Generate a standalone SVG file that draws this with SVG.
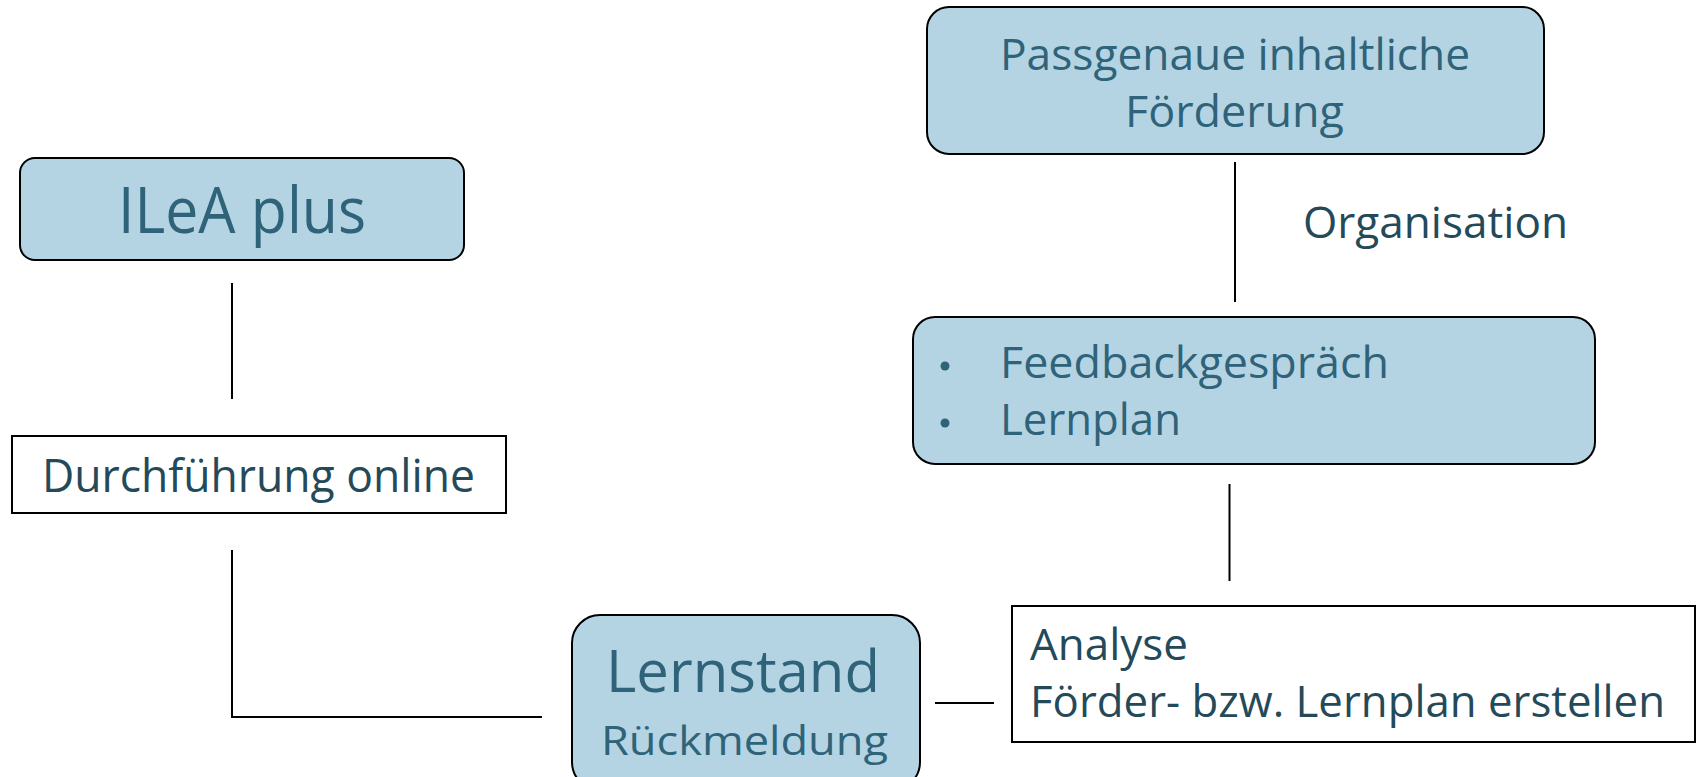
<svg xmlns="http://www.w3.org/2000/svg" width="1697" height="777" viewBox="0 0 1697 777">
<style>
.blue{fill:#b4d4e3;stroke:#000;stroke-width:2}
.white{fill:#fff;stroke:#000;stroke-width:2}
.t{font-family:"Open Sans","Noto Sans",sans-serif}
.tb{fill:#2f6379}
.td{fill:#244a5a}
.conn line,.conn polyline{stroke:#000;stroke-width:2;fill:none}
</style>
<rect width="1697" height="777" fill="#fff"/>
<g class="conn">
<line x1="232" y1="283" x2="232" y2="399"/>
<polyline points="232,550 232,717 542,717"/>
<line x1="935" y1="703" x2="994" y2="703"/>
<line x1="1235" y1="162" x2="1235" y2="302"/>
<line x1="1229.5" y1="484" x2="1229.5" y2="581"/>
</g>
<g id="ilea">
<rect class="blue" x="20" y="158" width="444" height="102" rx="15"/>
<text class="t tb" x="118" y="233" font-size="64" textLength="248" lengthAdjust="spacingAndGlyphs">ILeA plus</text>
</g>
<g id="durchfuehrung">
<rect class="white" x="12" y="436" width="494" height="77"/>
<text class="t td" x="42" y="492" font-size="46" textLength="433" lengthAdjust="spacingAndGlyphs">Durchführung online</text>
</g>
<g id="lernstand">
<rect class="blue" x="572" y="615" width="348" height="175" rx="28"/>
<text class="t tb" x="606" y="692" font-size="58" textLength="274" lengthAdjust="spacingAndGlyphs">Lernstand</text>
<text class="t tb" x="601" y="755" font-size="40" textLength="287" lengthAdjust="spacingAndGlyphs">Rückmeldung</text>
</g>
<g id="analyse">
<rect class="white" x="1012" y="606" width="683" height="136"/>
<text class="t td" x="1030" y="660" font-size="44" textLength="158" lengthAdjust="spacingAndGlyphs">Analyse</text>
<text class="t td" x="1030" y="717" font-size="44" textLength="635" lengthAdjust="spacingAndGlyphs">Förder- bzw. Lernplan erstellen</text>
</g>
<g id="passgenau">
<rect class="blue" x="927" y="7" width="617" height="147" rx="22"/>
<text class="t tb" x="1000" y="70" font-size="44" textLength="470" lengthAdjust="spacingAndGlyphs">Passgenaue inhaltliche</text>
<text class="t tb" x="1125" y="127" font-size="44" textLength="219" lengthAdjust="spacingAndGlyphs">Förderung</text>
</g>
<g id="organisation">
<text class="t td" x="1303" y="238" font-size="43" textLength="265" lengthAdjust="spacingAndGlyphs">Organisation</text>
</g>
<g id="feedback">
<rect class="blue" x="913" y="317" width="682" height="147" rx="22"/>
<circle cx="945" cy="366" r="4.5" fill="#2f6379"/>
<circle cx="945" cy="423" r="4.5" fill="#2f6379"/>
<text class="t tb" x="1000" y="378" font-size="44" textLength="389" lengthAdjust="spacingAndGlyphs">Feedbackgespräch</text>
<text class="t tb" x="1000" y="435" font-size="44" textLength="181" lengthAdjust="spacingAndGlyphs">Lernplan</text>
</g>
</svg>
